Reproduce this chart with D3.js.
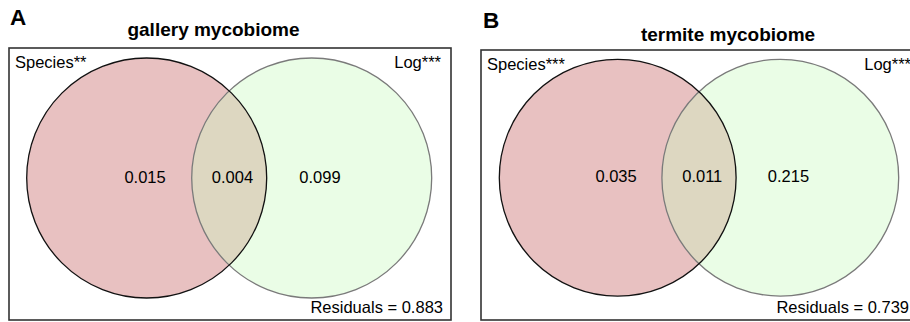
<!DOCTYPE html>
<html>
<head>
<meta charset="utf-8">
<script src="https://cdn.jsdelivr.net/npm/d3@7"></script>
<style>
	body { margin: 0; background: #fff; }
	svg { display: block; font-family: "Liberation Sans", Arial, sans-serif; }
</style>
</head>
<body>
<svg id="fig" width="910" height="322"></svg>
<script>
'use strict' ;

// chart values
const panelTags = [ "A", "B" ] ;
const titles = [ "gallery mycobiome", "termite mycobiome" ] ;
const firstSet = [ "Species**", "Species***" ] ;
const secondSet = [ "Log***", "Log***" ] ;
const onlyFirst = [ 0.015, 0.035 ] ;
const shared = [ 0.004, 0.011 ] ;
const onlySecond = [ 0.099, 0.215 ] ;
const residuals = [ 0.883, 0.739 ] ;

// layout of each panel, in pixels
const geom = [
	{ mid: 229.2, cy: 178, sep: 82.5, r: 120, box: { left: 9, right: 451, top: 48, bottom: 320 }, tag: { x: 10, y: 25 }, title: { x: 213.5, y: 36 } },
	{ mid: 699, cy: 177.7, sep: 81.3, r: 118.4, box: { left: 481, right: 921, top: 50, bottom: 320 }, tag: { x: 483, y: 28 }, title: { x: 728, y: 40.5 } }
] ;

const aes = {
	first: { fill: "#e8c1c1", stroke: "#111" },
	second: { fill: "#eafde6", stroke: "#7a7a7a" },
	shared: "#ddd7c1",
	font: 16.5
} ;

const svg = d3.select( "#fig" ) ;
const defs = svg.append( "defs" ) ;

panelTags.forEach( ( tag, i ) => {
	let g = geom[i] ;
	// unit layout: circle centres at -1 and +1
	let x = d3.scaleLinear().domain( [ -1, 1 ] ).range( [ g.mid - g.sep, g.mid + g.sep ] ) ;
	let panel = svg.append( "g" ).attr( "class", "panel" ) ;

	panel.append( "text" )
		.attr( "x", g.tag.x ).attr( "y", g.tag.y )
		.attr( "font-size", 22.5 ).attr( "font-weight", "bold" )
		.text( tag ) ;

	panel.append( "text" )
		.attr( "x", g.title.x ).attr( "y", g.title.y )
		.attr( "text-anchor", "middle" )
		.attr( "font-size", 19 ).attr( "font-weight", "bold" )
		.text( titles[i] ) ;

	panel.append( "rect" )
		.attr( "x", g.box.left ).attr( "y", g.box.top )
		.attr( "width", g.box.right - g.box.left )
		.attr( "height", g.box.bottom - g.box.top )
		.attr( "fill", "none" )
		.attr( "stroke", "#333" )
		.attr( "stroke-width", 1.6 ) ;

	let circles = [
		{ c: -1, style: aes.first },
		{ c: 1, style: aes.second }
	] ;
	panel.selectAll( "circle.set" )
		.data( circles )
		.enter()
		.append( "circle" )
		.attr( "class", "set" )
		.attr( "cx", d => x( d.c ) )
		.attr( "cy", g.cy )
		.attr( "r", g.r )
		.attr( "fill", d => d.style.fill ) ;

	// shared region: second circle clipped to the first
	defs.append( "clipPath" )
		.attr( "id", "clip" + i )
		.append( "circle" )
		.attr( "cx", x( -1 ) ).attr( "cy", g.cy ).attr( "r", g.r ) ;
	panel.append( "circle" )
		.attr( "cx", x( 1 ) ).attr( "cy", g.cy ).attr( "r", g.r )
		.attr( "clip-path", "url(#clip" + i + ")" )
		.attr( "fill", aes.shared ) ;

	panel.selectAll( "circle.outline" )
		.data( circles.slice().reverse() )
		.enter()
		.append( "circle" )
		.attr( "class", "outline" )
		.attr( "cx", d => x( d.c ) )
		.attr( "cy", g.cy )
		.attr( "r", g.r )
		.attr( "fill", "none" )
		.attr( "stroke", d => d.style.stroke )
		.attr( "stroke-width", 1.3 ) ;

	let fmt = d3.format( ".3f" ) ;
	let regions = [
		{ v: onlyFirst[i], at: -1.02 },
		{ v: shared[i], at: 0.04 },
		{ v: onlySecond[i], at: 1.1 }
	] ;
	panel.selectAll( "text.value" )
		.data( regions )
		.enter()
		.append( "text" )
		.attr( "class", "value" )
		.attr( "x", d => x( d.at ) )
		.attr( "y", g.cy + 4.5 )
		.attr( "text-anchor", "middle" )
		.attr( "font-size", aes.font )
		.text( d => fmt( d.v ) ) ;

	panel.append( "text" )
		.attr( "x", g.box.left + 6 ).attr( "y", g.box.top + 19.5 )
		.attr( "font-size", aes.font )
		.text( firstSet[i] ) ;
	panel.append( "text" )
		.attr( "x", g.box.right - 10 ).attr( "y", g.box.top + 19.5 )
		.attr( "text-anchor", "end" )
		.attr( "font-size", aes.font )
		.text( secondSet[i] ) ;

	panel.append( "text" )
		.attr( "x", Math.min( g.box.right - 8, 909 ) ).attr( "y", 313 )
		.attr( "text-anchor", "end" )
		.attr( "font-size", aes.font )
		.text( "Residuals = " + fmt( residuals[i] ) ) ;
} ) ;
</script>
</body>
</html>
